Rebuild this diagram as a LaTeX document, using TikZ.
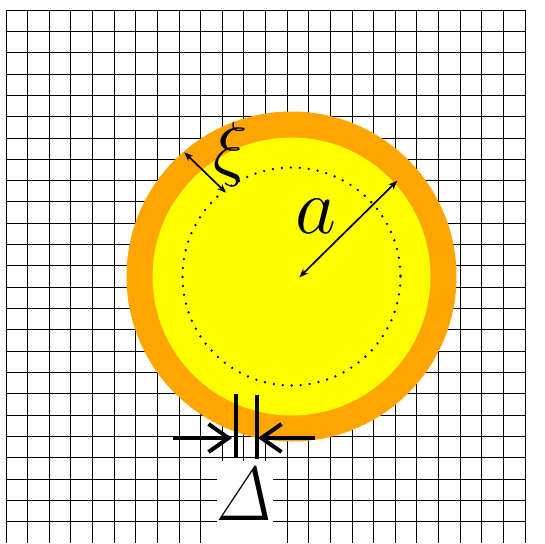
\documentclass[tikz,border=0pt]{standalone}
\usepackage{amsmath,amssymb}
\usetikzlibrary{arrows.meta}
\definecolor{shellOrange}{RGB}{255,165,0}
\definecolor{coreYellow}{RGB}{255,255,0}
\tikzset{
  gridline/.style={black,line width=0.8pt},
  thinarrow/.style={black,line width=1.7pt,{Stealth[length=9pt,width=7pt]}-{Stealth[length=9pt,width=7pt]}},
  gaparrow/.style={black,line width=4pt,-{Straight Barb[length=20pt,width=28pt]}},
  gapbar/.style={black,line width=4pt},
  bigsym/.style={inner sep=0pt,anchor=base,font=\Huge}
}
\begin{document}
\begin{tikzpicture}[x=1pt,y=-1pt,line cap=butt,line join=miter]
  \useasboundingbox (0,0) rectangle (545,543);
  % grid
  \foreach \k in {0,...,24}{
    \draw[gridline] ({6+21.625*\k},10) -- ({6+21.625*\k},543);
    \draw[gridline] (6,{10+21.32*\k}) -- (525,{10+21.32*\k});
  }
  % sphere with shell
  \coordinate (O) at (291.5,276.5);
  \fill[shellOrange] (O) circle[radius=165];
  \fill[coreYellow] (O) circle[radius=139];
  \draw[line width=2.6pt,line cap=round,dash pattern=on 0pt off 9pt] (O) circle[radius=109];
  % radius a
  \coordinate (A1) at (299.3,277.3);
  \coordinate (A2) at (397.3,180.7);
  \draw[thinarrow] (A1) -- (A2);
  \node[bigsym,scale=3.2] (alab) at (316,233) {$a$};
  % thickness xi
  \coordinate (X1) at (184.3,152.3);
  \coordinate (X2) at (226,192.7);
  \draw[thinarrow] (X1) -- (X2);
  \node[bigsym,scale=2.9] (xilab) at (230.5,172) {$\xi$};
  % gap Delta
  \coordinate (L1) at (173,438);
  \coordinate (L2) at (232,438);
  \coordinate (R1) at (315,438);
  \coordinate (R2) at (258,438);
  \draw[gapbar] (236,394) -- (236,457);
  \draw[gapbar] (257,395) -- (257,459);
  \draw[gaparrow] (L1) -- (L2);
  \draw[gaparrow] (R1) -- (R2);
  \fill[white] (217,461) rectangle (273,543);
  \node[bigsym,xslant=0.22,xscale=0.92,scale=3.1] (dlab) at (244,520) {$\Delta$};
\end{tikzpicture}
\end{document}
